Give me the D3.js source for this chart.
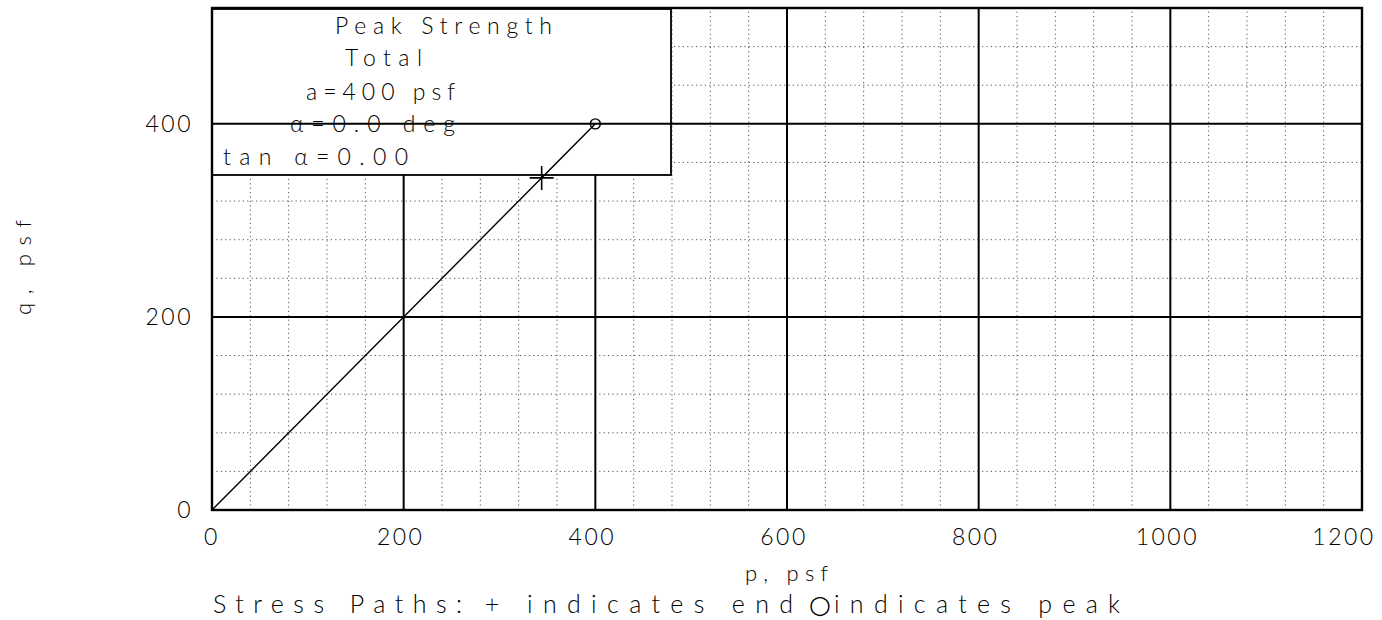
<!DOCTYPE html>
<html>
<head>
<meta charset="utf-8">
<script src="https://cdn.jsdelivr.net/npm/d3@7"></script>
<style>
  html, body { margin: 0; padding: 0; background: #fff; }
  svg { display: block; }
  text { font-family: "Lato", "Liberation Sans", sans-serif; font-weight: 300; fill: #000; }
</style>
</head>
<body>
<svg id="chart" width="1382" height="620"></svg>
<script>
// ---------- data ----------
const pValues = [0, 400, 344];          // stress path p (psf)
const qValues = [0, 400, 344];          // stress path q (psf)
const peakPoint = { p: 400, q: 400 };   // circle = peak
const endPoint  = { p: 344, q: 344 };   // plus = end
const xTickValues = [0, 200, 400, 600, 800, 1000, 1200];
const yTickValues = [0, 200, 400];
const xTickLabels = ["0", "200", "400", "600", "800", "1000", "1200"];
const yTickLabels = ["0", "200", "400"];
const xMajorGrid = [200, 400, 600, 800, 1000];
const yMajorGrid = [200, 400];
const legendLines = ["Peak Strength", "Total", "a=400 psf", "α=0.0 deg", "tan α=0.00"];
const xTitle = "p, psf";
const yTitle = "q, psf";

// ---------- layout ----------
const svg = d3.select("#chart");
const L = 212, R = 1362, T = 8, B = 510;
const x = d3.scaleLinear().domain([0, 1200]).range([L, R]);
const y = d3.scaleLinear().domain([0, 520]).range([B, T]);

// minor dotted grid every 40 psf
const xMinor = d3.range(40, 1200, 40).filter(v => v % 200 !== 0);
const yMinor = d3.range(40, 520, 40).filter(v => v % 200 !== 0);
const g = svg.append("g");
g.selectAll(".mx").data(xMinor).join("line")
  .attr("x1", d => x(d)).attr("x2", d => x(d)).attr("y1", y(0)).attr("y2", y(520))
  .attr("stroke", "#555").attr("stroke-width", 1).attr("stroke-dasharray", "1.2,3.2");
g.selectAll(".my").data(yMinor).join("line")
  .attr("y1", d => y(d)).attr("y2", d => y(d)).attr("x1", x(0)).attr("x2", x(1200))
  .attr("stroke", "#555").attr("stroke-width", 1).attr("stroke-dasharray", "1.2,3.2");

// major vertical grid
g.selectAll(".Mx").data(xMajorGrid).join("line")
  .attr("x1", d => x(d)).attr("x2", d => x(d)).attr("y1", y(0)).attr("y2", y(520))
  .attr("stroke", "#000").attr("stroke-width", 2);
// 200 horizontal (below legend)
g.selectAll(".My").data(yMajorGrid.filter(v => v < 350)).join("line")
  .attr("y1", d => y(d)).attr("y2", d => y(d)).attr("x1", x(0)).attr("x2", x(1200))
  .attr("stroke", "#000").attr("stroke-width", 2);

// legend box (opaque)
const boxRight = 671, boxBottom = 175;
svg.append("rect").attr("x", x(0)).attr("y", T + 1)
  .attr("width", boxRight - x(0)).attr("height", boxBottom - T - 1)
  .attr("fill", "#fff").attr("stroke", "#000").attr("stroke-width", 1.8);

// 400 horizontal line drawn over the box
svg.selectAll(".My2").data(yMajorGrid.filter(v => v >= 350)).join("line")
  .attr("y1", d => y(d)).attr("y2", d => y(d)).attr("x1", x(0)).attr("x2", x(1200))
  .attr("stroke", "#000").attr("stroke-width", 2);

// plot frame
svg.append("rect").attr("x", L).attr("y", T).attr("width", R - L).attr("height", B - T)
  .attr("fill", "none").attr("stroke", "#000").attr("stroke-width", 2.4);

// stress path
const pts = pValues.map((p, i) => [p, qValues[i]]);
svg.append("path").datum(pts)
  .attr("d", d3.line().x(d => x(d[0])).y(d => y(d[1])))
  .attr("fill", "none").attr("stroke", "#000").attr("stroke-width", 1.4);
svg.append("circle").attr("cx", x(peakPoint.p)).attr("cy", y(peakPoint.q)).attr("r", 5)
  .attr("fill", "none").attr("stroke", "#000").attr("stroke-width", 1.4);
svg.append("path")
  .attr("d", `M${x(endPoint.p) - 12},${y(endPoint.q)}h24M${x(endPoint.p)},${y(endPoint.q) - 12}v24`)
  .attr("stroke", "#000").attr("stroke-width", 1.6).attr("fill", "none");

// tick labels
const tickFont = 23;
svg.selectAll(".xt").data(xTickValues).join("text")
  .attr("x", (d, i) => x(d) + (i === xTickValues.length - 1 ? -18 : (i === 0 ? 0 : -3)))
  .attr("y", 545).attr("text-anchor", "middle")
  .attr("font-size", tickFont).attr("letter-spacing", 2.5)
  .text((d, i) => xTickLabels[i]);
svg.selectAll(".yt").data(yTickValues).join("text")
  .attr("x", 193).attr("y", d => y(d) + 8).attr("text-anchor", "end")
  .attr("font-size", tickFont).attr("letter-spacing", 2.5)
  .text((d, i) => yTickLabels[i]);

// axis titles
svg.append("text").attr("x", 745).attr("y", 581)
  .attr("font-size", 22).attr("textLength", 83).attr("lengthAdjust", "spacing").text(xTitle);
svg.append("text").attr("transform", "translate(31,315) rotate(-90)")
  .attr("font-size", 22).attr("textLength", 95).attr("lengthAdjust", "spacing").text(yTitle);

// legend text
const legPos = [
  { x: 335, y: 34, w: 217 },
  { x: 345, y: 66, w: 77 },
  { x: 306, y: 100, w: 149 },
  { x: 290, y: 132, w: 165 },
  { x: 223, y: 165, w: 185 }
];
svg.selectAll(".leg").data(legendLines).join("text")
  .attr("x", (d, i) => legPos[i].x).attr("y", (d, i) => legPos[i].y)
  .attr("font-size", 23)
  .attr("textLength", (d, i) => legPos[i].w).attr("lengthAdjust", "spacing")
  .text(d => d);

// bottom note
const note = svg.append("g");
note.append("text").attr("x", 213).attr("y", 613).attr("font-size", 25)
  .attr("textLength", 249).attr("lengthAdjust", "spacing").text("Stress Paths:");
note.append("text").attr("x", 492).attr("y", 613).attr("font-size", 25).attr("text-anchor", "middle").text("+");
note.append("text").attr("x", 527).attr("y", 613).attr("font-size", 25)
  .attr("textLength", 266).attr("lengthAdjust", "spacing").text("indicates end");
note.append("text").attr("x", 820).attr("y", 613).attr("font-size", 25).attr("text-anchor", "middle")
  .style("font-family", "DejaVu Sans").style("font-weight", 400).text("○");
note.append("text").attr("x", 834).attr("y", 613).attr("font-size", 25)
  .attr("textLength", 286).attr("lengthAdjust", "spacing").text("indicates peak");
</script>
</body>
</html>
